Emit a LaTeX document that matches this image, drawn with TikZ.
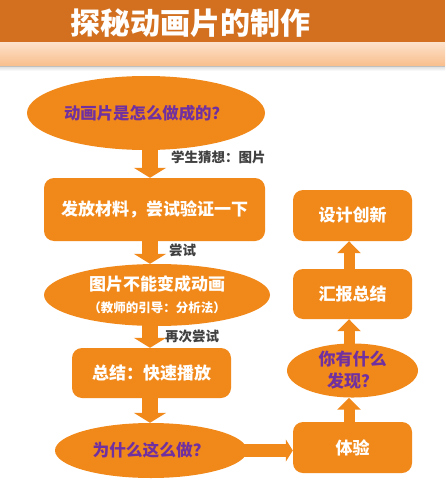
\documentclass[tikz,border=0pt]{standalone}
\usepackage{fontspec}
\setmainfont{Noto Sans CJK SC}
\usetikzlibrary{arrows.meta}
\usetikzlibrary{shapes.geometric}
\definecolor{flow}{RGB}{241,137,26}
\definecolor{band}{RGB}{210,112,32}
\definecolor{ask}{RGB}{112,48,160}
\definecolor{hintgray}{RGB}{64,64,64}

\begin{document}
\begin{tikzpicture}[x=1pt,y=-1pt,
  box/.style={fill=flow, rounded corners=10pt, text=white, inner sep=0pt,
    font=\bfseries\fontsize{17}{22}\selectfont, minimum width=119pt, minimum height=51pt},
  oval/.style={ellipse, fill=flow, inner sep=0pt, align=center,
    font=\bfseries\fontsize{17}{22}\selectfont},
  flowarrow/.style={draw=flow, line width=16pt, -{Triangle[width=32pt,length=10pt]}},
  upflow/.style={draw=flow, line width=11pt, -{Triangle[width=23pt,length=12pt]}},
  hint/.style={text=hintgray, inner sep=0pt, anchor=west,
    font=\bfseries\fontsize{13.5}{15}\selectfont}]
\useasboundingbox (0,0) rectangle (445,492);
% header
\fill[band] (0,0) rectangle (445,43);
\shade[top color={rgb,255:red,252;green,224;blue,200}, bottom color={rgb,255:red,249;green,190;blue,140}] (0,43) rectangle (445,66);
\fill[black!25] (0,66) rectangle (445,67.5);
\shade[top color=black!10, bottom color=white] (0,67.5) rectangle (445,71);
\node[text=white, font=\bfseries\fontsize{30}{32}\selectfont] (title) at (190,23) {探秘动画片的制作};
\coordinate (col) at (150,0);
\coordinate (col2) at (349,0);
% left column
\node[oval, minimum width=238pt, minimum height=74pt, text=ask, font=\bfseries\fontsize{16.4}{20}\selectfont] (e1) at (146,113) {动画片是怎么做成的？};
\node[box, minimum width=221pt, minimum height=63pt] (r1) at (154.5,209.5) {发放材料，尝试验证一下};
\node[oval, minimum width=226pt, minimum height=62pt, text=white] (e2) at (157,295)
  {\fontsize{17}{18}\selectfont 图片不能变成动画\\[0pt]\fontsize{12.5}{14}\selectfont （教师的引导：分析法）};
\node[box, minimum width=159pt, minimum height=50pt] (r2) at (151.5,373) {总结：快速播放};
\node[oval, minimum width=192pt, minimum height=55pt, text=ask, font=\bfseries\fontsize{16.7}{20}\selectfont] (e3) at (151,450.5) {为什么这么做？};
% right column
\node[box] (r3) at (352.5,447.5) {体验};
\node[oval, minimum width=131pt, minimum height=45pt, text=ask] (e4) at (352.5,370.5) {你有什么\\发现？};
\node[box, minimum height=50pt] (r4) at (352.5,294) {汇报总结};
\node[box] (r5) at (352.5,215.5) {设计创新};
% arrows
\draw[flowarrow] ([yshift=2pt]e1.south -| col) -- (r1.north -| col)
  node[hint, pos=.3, xshift=13pt] (h1) {学生猜想：图片};
\draw[flowarrow] ([yshift=2pt]r1.south -| col) -- (e2.north -| col)
  node[hint, pos=.45, xshift=11pt] (h2) {尝试};
\draw[flowarrow] ([yshift=2pt]e2.south -| col) -- (r2.north -| col)
  node[hint, pos=.5, xshift=7pt] (h3) {再次尝试};
\draw[flowarrow] ([yshift=2pt]r2.south -| col) -- (e3.north -| col);
\draw[draw=flow, line width=13pt, -{Triangle[width=22pt,length=7pt]}] ([xshift=-4pt]e3.east) -- (e3.east -| r3.west);
\draw[upflow] ([yshift=-2pt]r3.north -| col2) -- (e4.south -| col2);
\draw[upflow] ([yshift=-2pt]e4.north -| col2) -- (r4.south -| col2);
\draw[upflow] ([yshift=-2pt]r4.north -| col2) -- (r5.south -| col2);
\end{tikzpicture}
\end{document}
